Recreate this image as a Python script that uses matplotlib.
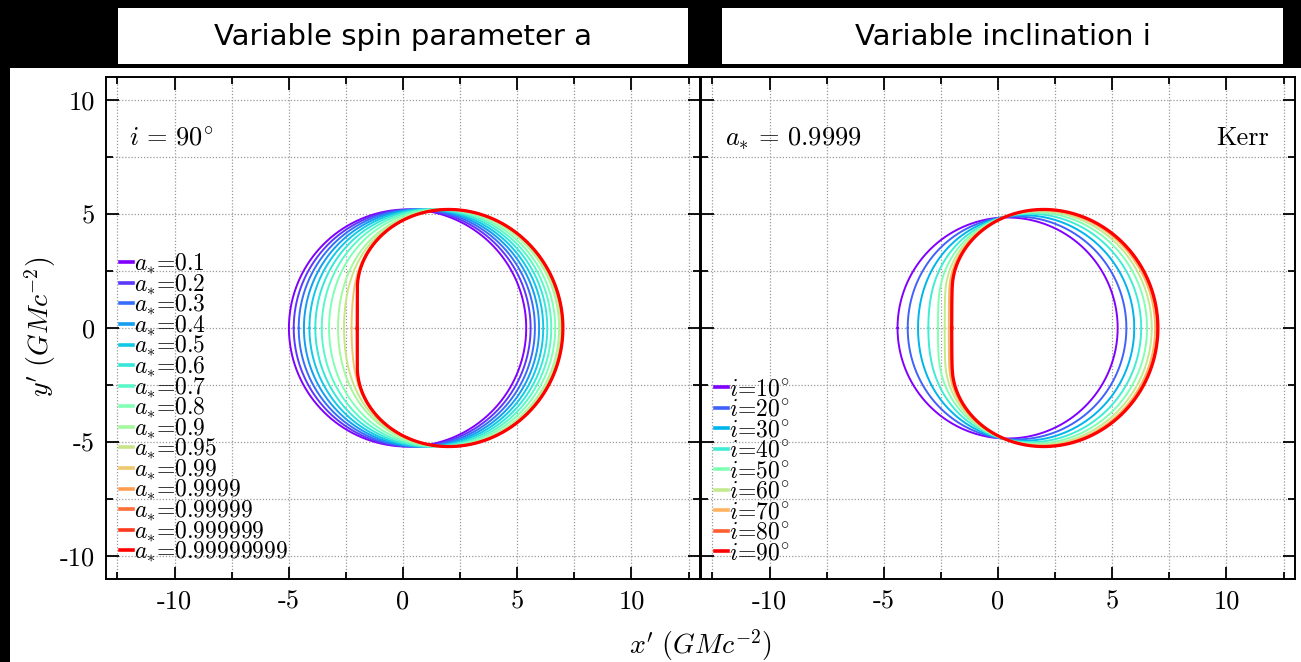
import numpy as np
import matplotlib
matplotlib.use("Agg")
import matplotlib.pyplot as plt
from matplotlib.patches import Rectangle
from matplotlib.ticker import MultipleLocator

# ---------------- data ----------------
spins = [0.1, 0.2, 0.3, 0.4, 0.5, 0.6, 0.7, 0.8, 0.9, 0.95, 0.99,
         0.9999, 0.99999, 0.999999, 0.99999999]
spin_labels = ["0.1", "0.2", "0.3", "0.4", "0.5", "0.6", "0.7", "0.8", "0.9",
               "0.95", "0.99", "0.9999", "0.99999", "0.999999", "0.99999999"]
inclination_left = 90.0
spin_right = 0.9999
inclinations = [10, 20, 30, 40, 50, 60, 70, 80, 90]
panel_titles = ["Variable spin parameter a", "Variable inclination i"]
xticks = [-10, -5, 0, 5, 10]
yticks = [-10, -5, 0, 5, 10]

plt.rcParams["font.family"] = "cmr10"
plt.rcParams["mathtext.fontset"] = "cm"
plt.rcParams["axes.unicode_minus"] = False
plt.rcParams["axes.formatter.use_mathtext"] = False


def kerr_shadow(a, inc_deg):
    """Boundary of the Kerr shadow (M=1) seen at inclination inc."""
    inc = np.radians(inc_deg)
    r_pro = 2.0 * (1.0 + np.cos(2.0 / 3.0 * np.arccos(-a)))
    r_ret = 2.0 * (1.0 + np.cos(2.0 / 3.0 * np.arccos(a)))
    s = np.unique(np.concatenate([[0.0], np.logspace(-14, -1, 3000),
                                  0.5 * (1 - np.cos(np.pi * np.linspace(0, 1, 6000)))]))

    def comp(r):
        xi = (r**2 * (3 - r) - a**2 * (r + 1)) / (a * (r - 1))
        eta = r**3 * (4 * a**2 - r * (r - 3)**2) / (a**2 * (r - 1)**2)
        b2 = eta + a**2 * np.cos(inc)**2 - xi**2 / np.tan(inc)**2
        return xi, b2

    r = r_pro + (r_ret - r_pro) * s
    xi, b2 = comp(r)
    sc = np.where(np.sign(b2[:-1]) != np.sign(b2[1:]))[0]
    extra = []
    for k in sc:
        lo, hi = r[k], r[k + 1]
        flo = comp(lo)[1]
        for _ in range(80):
            mid = 0.5 * (lo + hi)
            fm = comp(mid)[1]
            if np.sign(fm) == np.sign(flo):
                lo, flo = mid, fm
            else:
                hi = mid
        extra.append(0.5 * (lo + hi))
    if extra:
        r = np.sort(np.concatenate([r, extra]))
        xi, b2 = comp(r)
        for e in extra:
            b2[np.argmin(np.abs(r - e))] = 0.0
    m = b2 >= -1e-9
    xi, b2 = xi[m], np.clip(b2[m], 0, None)
    alpha = -xi / np.sin(inc)
    beta = np.sqrt(b2)
    x = np.concatenate([alpha, alpha[::-1]])
    y = np.concatenate([beta, -beta[::-1]])
    return x, y


W, H = 1301, 662
fig = plt.figure(figsize=(W / 100, H / 100), dpi=100)
fig.patch.set_facecolor("black")


def px(x0, y0, x1, y1):
    return (x0 / W, 1 - y1 / H, (x1 - x0) / W, (y1 - y0) / H)


# white plot region
fig.patches.append(Rectangle((10 / W, 0), 1, 1 - 68 / H, transform=fig.transFigure,
                             facecolor="white", edgecolor="none", zorder=-10))
# title boxes
for (x0, x1), title in zip([(118, 688), (722, 1283)], panel_titles):
    fig.patches.append(Rectangle((x0 / W, 1 - 64 / H), (x1 - x0) / W, 56 / H,
                                 transform=fig.transFigure, facecolor="white",
                                 edgecolor="none", zorder=-10))
    fig.text((x0 + x1) / 2 / W, 1 - 37 / H, title, ha="center", va="center",
             fontsize=21, family="DejaVu Sans", color="black")

axL = fig.add_axes(px(106, 77, 700, 579))
axR = fig.add_axes(px(701, 77, 1295, 579))

for ax in (axL, axR):
    ax.set_xlim(-13, 13)
    ax.set_ylim(-11, 11)
    ax.xaxis.set_minor_locator(MultipleLocator(2.5))
    ax.yaxis.set_minor_locator(MultipleLocator(2.5))
    ax.set_xticks(xticks)
    ax.set_yticks(yticks)
    ax.tick_params(which="both", direction="in", top=True, right=True,
                   width=1.3, color="black")
    ax.tick_params(which="major", length=9, labelsize=19, pad=8)
    ax.tick_params(which="minor", length=5)
    ax.grid(which="both", linestyle=(0, (1, 1.5)), color="#9a9a9a", linewidth=0.9)
    for sp in ax.spines.values():
        sp.set_linewidth(1.4)
    ax.set_axisbelow(True)
axR.tick_params(labelleft=False)

# left panel: variable spin
cL = plt.cm.rainbow(np.linspace(0, 1, len(spins)))
for k, (a, lab) in enumerate(zip(spins, spin_labels)):
    x, y = kerr_shadow(a, inclination_left)
    lw = 2.3 if k == len(spins) - 1 else 1.4
    axL.plot(x, y, color=cL[k], lw=lw, label=r"$a_{*}$=" + lab, zorder=3 + k)
legL = axL.legend(loc="lower left", bbox_to_anchor=(0.015, 0.02), frameon=False,
                  fontsize=17, handlelength=0.55, handletextpad=0.05,
                  labelspacing=-0.145, borderpad=0.2, borderaxespad=0.0)
for h in legL.get_lines():
    h.set_linewidth(2.6)
axL.text(-12.0, 8.3, r"$i\,=\,90^{\circ}$", fontsize=19, va="center", ha="left")

# right panel: variable inclination
cR = plt.cm.rainbow(np.linspace(0, 1, len(inclinations)))
for k, inc in enumerate(inclinations):
    x, y = kerr_shadow(spin_right, inc)
    lw = 2.3 if k == len(inclinations) - 1 else 1.4
    axR.plot(x, y, color=cR[k], lw=lw, label=r"$i$=" + str(inc) + r"$^{\circ}$",
             zorder=3 + k)
legR = axR.legend(loc="lower left", bbox_to_anchor=(0.015, 0.02), frameon=False,
                  fontsize=17, handlelength=0.55, handletextpad=0.05,
                  labelspacing=-0.07, borderpad=0.2, borderaxespad=0.0)
for h in legR.get_lines():
    h.set_linewidth(2.6)
axR.text(-11.93, 8.3, r"$a_{*}\,=\,0.9999$", fontsize=19, va="center", ha="left")
axR.text(11.86, 8.3, "Kerr", fontsize=19, va="center", ha="right")

fig.text(700 / W, 1 - 645 / H, r"$x^{\prime}\ (GMc^{-2})$", fontsize=20,
         ha="center", va="center")
fig.text(40 / W, 1 - 327 / H, r"$y^{\prime}\ (GMc^{-2})$", fontsize=20,
         ha="center", va="center", rotation=90)

fig.savefig("out.png", dpi=100, facecolor=fig.get_facecolor())
